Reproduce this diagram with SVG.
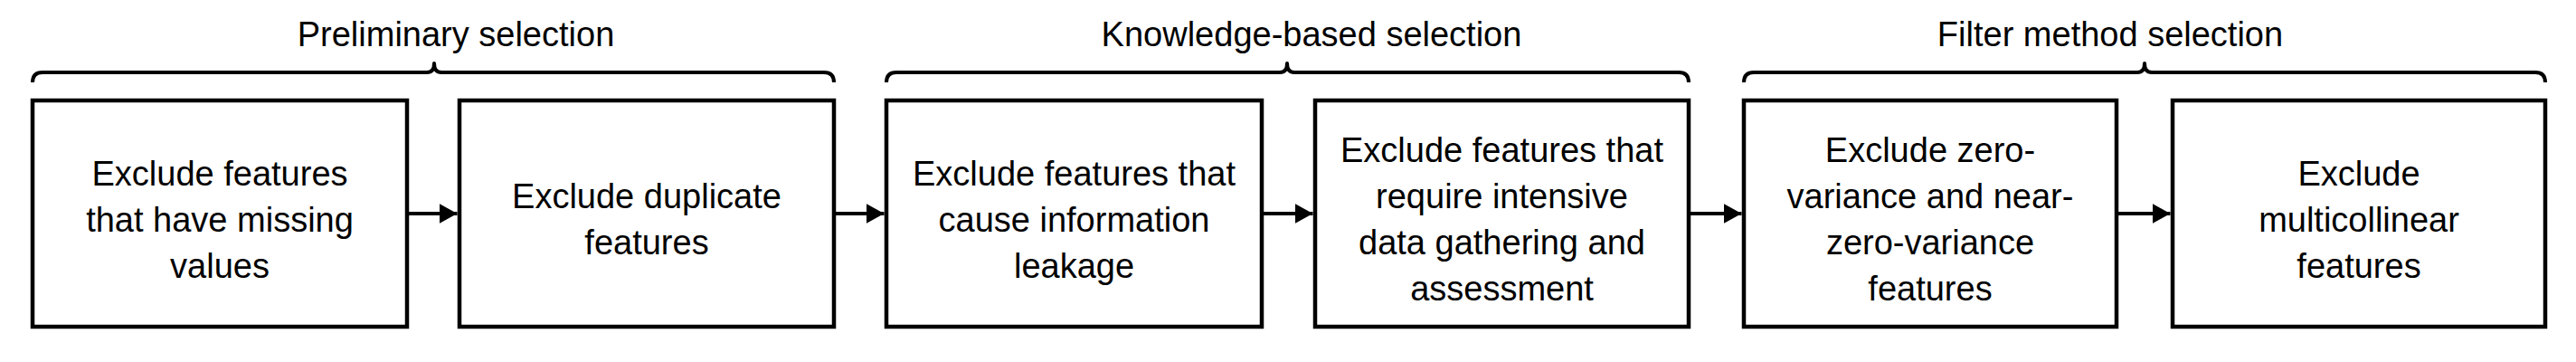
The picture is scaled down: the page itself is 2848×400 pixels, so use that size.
<svg xmlns="http://www.w3.org/2000/svg" width="2848" height="400" viewBox="0 0 2848 400">
<defs>
<style>
.box{fill:#fff;stroke:#000;stroke-width:4.5}
.br{fill:none;stroke:#000;stroke-width:4;stroke-linejoin:round}
.t{font-family:"Liberation Sans",Arial,sans-serif;font-size:38px;fill:#000;text-anchor:middle}
.c{stroke:#000;stroke-width:4;fill:none}
</style>
<marker id="ah" markerUnits="userSpaceOnUse" markerWidth="20" markerHeight="22" refX="20" refY="11" orient="auto">
<path d="M0,0 L20,11 L0,22 z" fill="#000"/>
</marker>
</defs>
<rect width="2848" height="400" fill="#fff"/>
<g id="group-preliminary">
<path class="br" d="M36,91 Q36,80 47,80 L472,80 Q480,80 480,70 Q480,80 488,80 L911,80 Q922,80 922,91"/>
<text class="t" x="504" y="51">Preliminary selection</text>
</g>
<g id="group-knowledge">
<path class="br" d="M980,91 Q980,80 991,80 L1415,80 Q1423,80 1423,70 Q1423,80 1431,80 L1856,80 Q1867,80 1867,91"/>
<text class="t" x="1450" y="51">Knowledge-based selection</text>
</g>
<g id="group-filter">
<path class="br" d="M1928,91 Q1928,80 1939,80 L2363,80 Q2371,80 2371,70 Q2371,80 2379,80 L2803,80 Q2814,80 2814,91"/>
<text class="t" x="2333" y="51">Filter method selection</text>
</g>
<g id="node1">
<rect class="box" x="36" y="111" width="414" height="250"/>
<text class="t"><tspan x="243" y="205">Exclude features</tspan><tspan x="243" y="256">that have missing</tspan><tspan x="243" y="307">values</tspan></text>
</g>
<g id="node2">
<rect class="box" x="508" y="111" width="414" height="250"/>
<text class="t"><tspan x="715" y="230">Exclude duplicate</tspan><tspan x="715" y="281">features</tspan></text>
</g>
<g id="node3">
<rect class="box" x="980" y="111" width="415" height="250"/>
<text class="t"><tspan x="1187.5" y="205">Exclude features that</tspan><tspan x="1187.5" y="256">cause information</tspan><tspan x="1187.5" y="307">leakage</tspan></text>
</g>
<g id="node4">
<rect class="box" x="1454" y="111" width="413" height="250"/>
<text class="t"><tspan x="1660.5" y="179">Exclude features that</tspan><tspan x="1660.5" y="230">require intensive</tspan><tspan x="1660.5" y="281">data gathering and</tspan><tspan x="1660.5" y="332">assessment</tspan></text>
</g>
<g id="node5">
<rect class="box" x="1928" y="111" width="412" height="250"/>
<text class="t"><tspan x="2134" y="179">Exclude zero-</tspan><tspan x="2134" y="230">variance and near-</tspan><tspan x="2134" y="281">zero-variance</tspan><tspan x="2134" y="332">features</tspan></text>
</g>
<g id="node6">
<rect class="box" x="2402" y="111" width="412" height="250"/>
<text class="t"><tspan x="2608" y="205">Exclude</tspan><tspan x="2608" y="256">multicollinear</tspan><tspan x="2608" y="307">features</tspan></text>
</g>
<g id="connectors">
<line class="c" x1="452" y1="236" x2="505.5" y2="236" marker-end="url(#ah)"/>
<line class="c" x1="924" y1="236" x2="977.5" y2="236" marker-end="url(#ah)"/>
<line class="c" x1="1397" y1="236" x2="1451.5" y2="236" marker-end="url(#ah)"/>
<line class="c" x1="1869" y1="236" x2="1925.5" y2="236" marker-end="url(#ah)"/>
<line class="c" x1="2342" y1="236" x2="2399.5" y2="236" marker-end="url(#ah)"/>
</g>
</svg>
